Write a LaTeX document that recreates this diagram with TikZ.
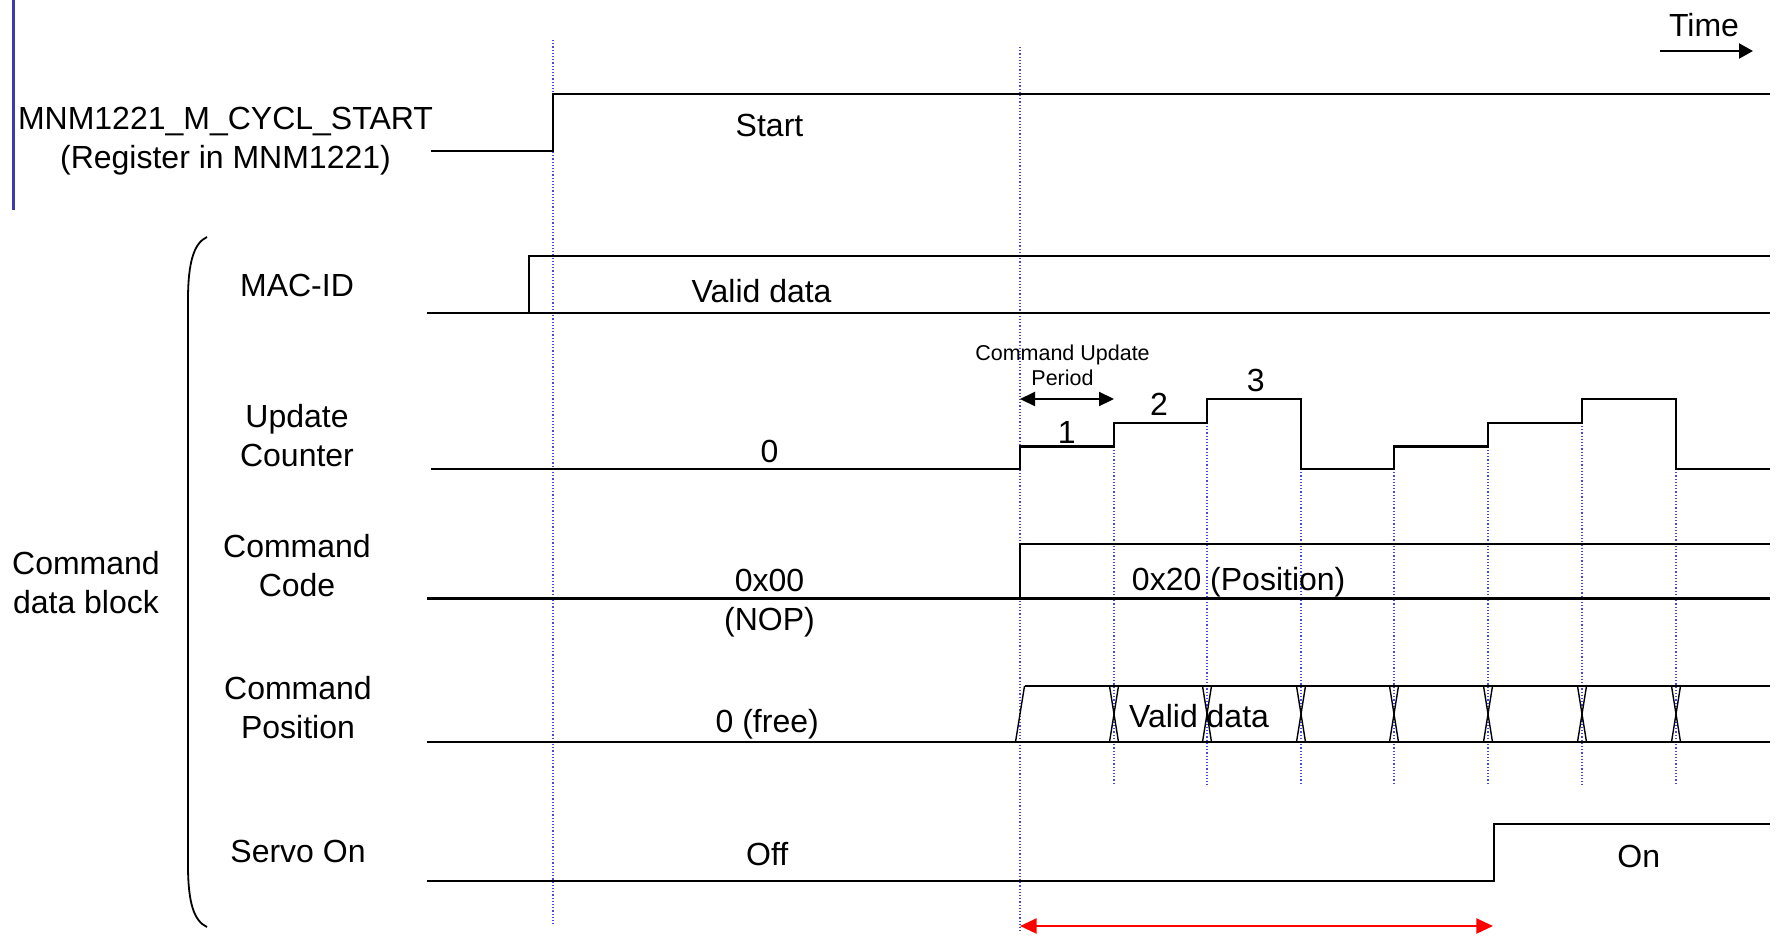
\documentclass[tikz,border=0pt]{standalone}
\usepackage{fontspec}
\setmainfont{Liberation Sans}
\usetikzlibrary{arrows.meta}
\definecolor{dotblue}{RGB}{70,70,225}
\definecolor{barblue}{RGB}{60,60,170}
\begin{document}
\begin{tikzpicture}[x=0.5pt,y=-0.5pt,
  sig/.style={line width=1.1pt,black},
  xing/.style={line width=0.7pt,black},
  guide/.style={dotblue,densely dotted,line width=0.6pt},
  lbl/.style={font=\fontsize{16}{19.3}\selectfont,align=center,inner sep=0pt,anchor=base},
  smalltxt/.style={font=\fontsize{10.75}{12.5}\selectfont,align=center,inner sep=0pt,anchor=base},
  dimarrow/.style={line width=1.1pt,{Triangle[length=7.5pt,width=7pt]}-{Triangle[length=7.5pt,width=7pt]}}]
\useasboundingbox (0,0) rectangle (1777,937);
% left bar
\draw[barblue,line width=1.3pt] (13.6,0) -- (13.6,210);
% guide lines
\draw[guide] (553,40) -- (553,926);
\draw[guide] (1020,47) -- (1020,932);
\foreach \x/\y in {1114/446.5,1207/422.7,1301/469,1394/469,1488/446.5,1582/422.7,1676/469}
  \draw[guide] (\x,\y) -- (\x,785);
% Time
\node[lbl] (time) at (1704,36.5) {Time};
\coordinate (t0) at (1660,51);
\coordinate (t1) at (1753,51);
\draw[line width=1.1pt,-{Triangle[length=7pt,width=7.5pt]}] (t0) -- (t1);
% labels (base anchor = last line baseline)
\node[lbl] (cycl) at (225.5,168) {MNM1221\_M\_CYCL\_START\\(Register in MNM1221)};
\node[lbl] (macid) at (297,296) {MAC-ID};
\node[lbl] (updc) at (297,466) {Update\\Counter};
\node[lbl] (cmdc) at (297,596.3) {Command\\Code};
\node[lbl] (cmdp) at (298,738) {Command\\Position};
\node[lbl] (servo) at (298,862.6) {Servo On};
\node[lbl] (block) at (86,613.3) {Command\\data block};
% brace
\draw[line width=0.9pt] (207,237) .. controls (194,243) and (188,262) .. (188,300) -- (188,865) .. controls (188,903) and (194,921) .. (207,927);
% Start signal
\draw[sig] (431,150.7) -- (553,150.7) -- (553,94) -- (1770,94);
\node[lbl] (start) at (769.5,136) {Start};
% MAC-ID
\draw[sig] (427,313) -- (1770,313);
\draw[sig] (529,313) -- (529,256) -- (1770,256);
\node[lbl] (macv) at (761.6,302.8) {Valid data};
% Update counter
\draw[sig] (431,469) -- (1020,469) -- (1020,446.5) -- (1114,446.5) -- (1114,422.7) -- (1207,422.7) -- (1207,399) -- (1301,399) -- (1301,469) -- (1394,469) -- (1394,446.5) -- (1488,446.5) -- (1488,422.7) -- (1582,422.7) -- (1582,399) -- (1676,399) -- (1676,469) -- (1770,469);
\node[lbl] (u0) at (769.5,462.5) {0};
\node[lbl] (u1) at (1066.7,443.5) {1};
\node[lbl] (u2) at (1159,415) {2};
\node[lbl] (u3) at (1255.7,391.7) {3};
\node[smalltxt] (cup) at (1062.5,385) {Command Update\\Period};
\coordinate (p0) at (1020,399);
\coordinate (p1) at (1114,399);
\draw[dimarrow] (p0) -- (p1);
% Command code
\draw[sig] (427,598.4) -- (1770,598.4);
\draw[sig] (1020,598.4) -- (1020,544) -- (1770,544);
\node[lbl] (nop) at (769.5,630) {0x00\\(NOP)};
\node[lbl] (pos) at (1238.7,590.6) {0x20 (Position)};
% Command position
\draw[sig] (427,742) -- (1770,742);
\draw[sig] (1024.5,686) -- (1770,686);
\draw[xing] (1015.5,742) -- (1024.5,686);
\foreach \x in {1114,1207,1301,1394,1488,1582,1676}{
  \draw[xing] (\x-4.5,686) -- (\x+4.5,742);
  \draw[xing] (\x-4.5,742) -- (\x+4.5,686);}
\node[lbl] (free) at (767.2,732.3) {0 (free)};
\node[lbl] (posv) at (1199,727.7) {Valid data};
% Servo on
\draw[sig] (427,880.6) -- (1493.7,880.6) -- (1493.7,824) -- (1770,824);
\node[lbl] (off) at (767.2,865) {Off};
\node[lbl] (on) at (1638.7,867) {On};
% red arrow
\coordinate (r0) at (1020,926);
\coordinate (r1) at (1493,926);
\draw[red,line width=1.1pt,{Triangle[length=8.3pt,width=7.5pt]}-{Triangle[length=8.3pt,width=7.5pt]}] (r0) -- (r1);
\end{tikzpicture}
\end{document}
